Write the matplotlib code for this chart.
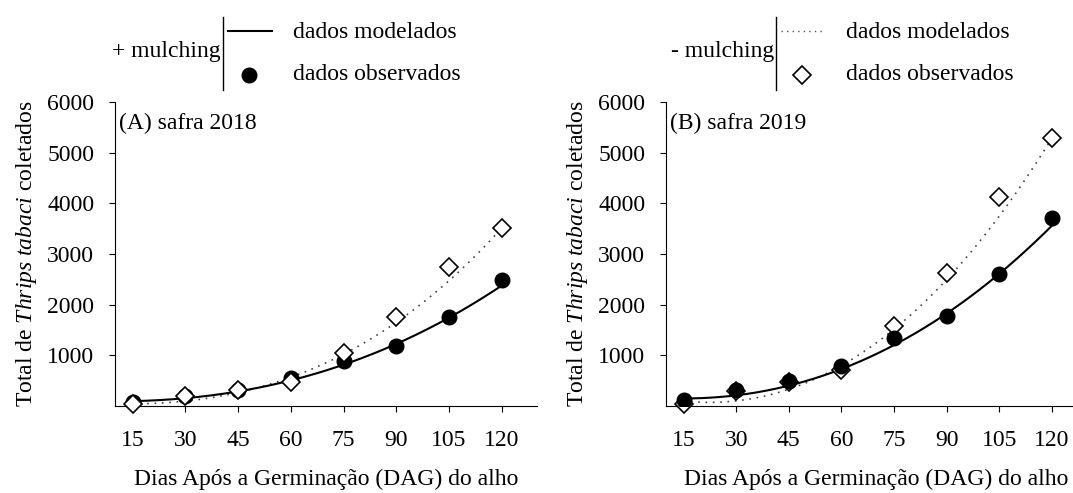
import matplotlib
matplotlib.use("Agg")
import matplotlib.pyplot as plt
import numpy as np
from matplotlib.lines import Line2D

plt.rcParams["font.family"] = ["Liberation Serif", "DejaVu Serif"]
plt.rcParams["mathtext.fontset"] = "custom"
plt.rcParams["mathtext.rm"] = "Liberation Serif"
plt.rcParams["mathtext.it"] = "Liberation Serif:italic"

# dias após a germinação
dias = [15, 30, 45, 60, 75, 90, 105, 120]

# (A) safra 2018
obs_com_2018 = [80, 200, 310, 546, 888, 1183, 1750, 2480]     # + mulching
obs_sem_2018 = [30, 200, 315, 480, 1052, 1762, 2745, 3511]    # - mulching
mod_com_2018 = [100, 150, 282, 500, 842, 1217, 1730, 2386]
mod_sem_2018 = [40, 90, 290, 560, 1000, 1650, 2500, 3500]

# (B) safra 2019
obs_com_2019 = [112, 310, 487, 790, 1342, 1775, 2611, 3708]
obs_sem_2019 = [40, 290, 470, 704, 1578, 2631, 4122, 5280]
mod_com_2019 = [145, 211, 428, 704, 1171, 1888, 2578, 3564]
mod_sem_2019 = [73, 132, 382, 743, 1493, 2453, 3860, 5240]

y_ticks = [1000, 2000, 3000, 4000, 5000, 6000]

W, H = 1073, 493
fig = plt.figure(figsize=(W / 100, H / 100), dpi=100)
FS = 17


def px(x, y):
    return x / W, 1 - y / H


def curva(ax, valores, **kw):
    coef = np.polyfit(dias, valores, 3)
    xs = np.linspace(dias[0], dias[-1], 200)
    ax.plot(xs, np.polyval(coef, xs), **kw)


def painel(rect, titulo, obs_com, obs_sem, mod_com, mod_sem, circ_em_cima):
    ax = fig.add_axes(rect)
    curva(ax, mod_sem, color="#444444", lw=1.2, ls=(0, (1, 3.4)), zorder=2)
    curva(ax, mod_com, color="black", lw=1.5, zorder=3)
    zc, zd = (6, 5) if circ_em_cima else (5, 6)
    ax.plot(dias, obs_com, "o", color="black", ms=10.5, zorder=zc)
    ax.plot(dias, obs_sem, "D", mfc="white", mec="black", mew=1.2, ms=9.5,
            zorder=zd, clip_on=False)
    ax.set_xlim(10, 130)
    ax.set_ylim(0, 6000)
    ax.set_xticks(dias)
    ax.set_yticks(y_ticks)
    for s in ["top", "right"]:
        ax.spines[s].set_visible(False)
    ax.tick_params(labelsize=FS, length=4, direction="out")
    ax.tick_params(axis="x", pad=13)
    ax.tick_params(axis="y", pad=11)
    ax.set_xlabel("Dias Após a Germinação (DAG) do alho", fontsize=FS, labelpad=13)
    ax.set_ylabel(r"Total de $\it{Thrips\ tabaci}$ coletados", fontsize=FS, labelpad=6)
    ax.text(0.01, 0.93, titulo, transform=ax.transAxes, fontsize=FS, va="center")
    return ax


painel([115 / W, 1 - 406 / H, 422 / W, 304 / H], "(A) safra 2018",
       obs_com_2018, obs_sem_2018, mod_com_2018, mod_sem_2018, False)
painel([666 / W, 1 - 406 / H, 421 / W, 304 / H], "(B) safra 2019",
       obs_com_2019, obs_sem_2019, mod_com_2019, mod_sem_2019, True)


def legenda(x_bar, rotulo, estilo, marcador):
    fig.text(*px(x_bar - 2, 51), rotulo, fontsize=FS, ha="right", va="center")
    fig.add_artist(Line2D(*zip(px(x_bar, 17), px(x_bar, 90)), color="black", lw=1,
                          transform=fig.transFigure))
    fig.add_artist(Line2D(*zip(px(x_bar + 5, 31), px(x_bar + 49, 31)),
                          transform=fig.transFigure, **estilo))
    fig.add_artist(Line2D([px(x_bar + 26, 75)[0]], [px(x_bar + 26, 75)[1]],
                          transform=fig.transFigure, ls="none", **marcador))
    fig.text(*px(x_bar + 70, 32), "dados modelados", fontsize=FS, va="center")
    fig.text(*px(x_bar + 70, 75), "dados observados", fontsize=FS, va="center")


legenda(223, "+ mulching", dict(color="black", lw=1.5),
        dict(marker="o", color="black", ms=10.5))
legenda(776, "- mulching", dict(color="#555555", lw=1.0, ls=(0, (1, 3))),
        dict(marker="D", mfc="white", mec="black", mew=1.2, ms=9.5))

fig.savefig("out.png", dpi=100)
